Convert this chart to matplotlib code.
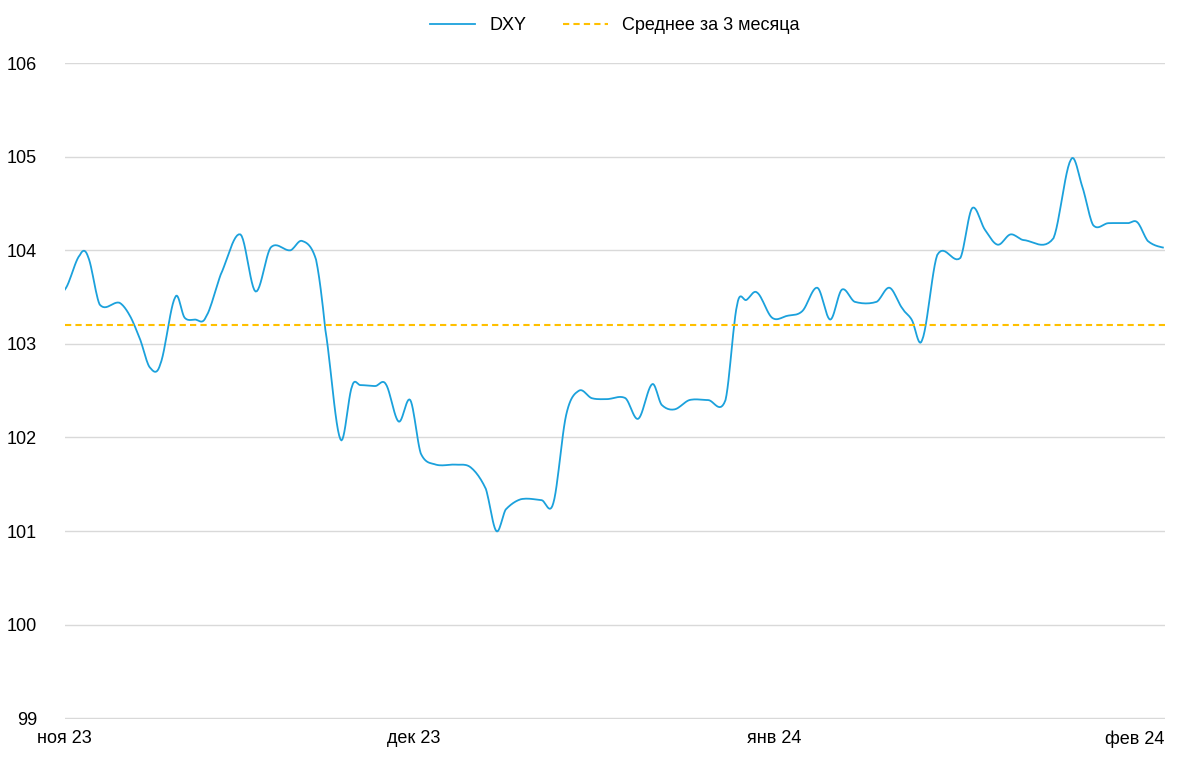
import matplotlib
matplotlib.use("Agg")
import matplotlib.pyplot as plt
import numpy as np

# day offsets from 1 Nov 2023 and DXY values
days = [0.0, 1.3, 2.0, 3.0, 4.7, 5.6, 6.5, 7.3, 8.2, 9.5, 10.3, 11.2, 12.1, 13.4, 15.1, 16.4, 17.7, 19.4, 20.4, 21.6, 22.4, 23.7, 24.7, 25.4, 26.7, 27.6, 28.7, 29.7, 30.6, 31.9, 33.6, 34.9, 36.2, 37.1, 37.9, 39.2, 41.0, 42.0, 43.1, 44.2, 45.3, 46.6, 48.2, 49.3, 50.5, 51.3, 52.4, 53.7, 55.3, 56.8, 57.8, 58.6, 59.5, 60.8, 62.1, 63.4, 64.7, 65.8, 66.8, 67.9, 69.8, 70.9, 72.0, 72.8, 73.7, 75.0, 77.0, 78.0, 79.1, 80.2, 81.3, 82.4, 85.0, 86.5, 87.5, 88.4, 89.7, 91.4, 92.2, 93.1, 94.4]
dxy = [103.58, 103.95, 103.93, 103.42, 103.44, 103.3, 103.04, 102.75, 102.78, 103.5, 103.28, 103.26, 103.28, 103.74, 104.17, 103.56, 104.03, 104.0, 104.1, 103.9, 103.15, 101.98, 102.55, 102.56, 102.55, 102.57, 102.17, 102.4, 101.83, 101.71, 101.71, 101.68, 101.45, 101.0, 101.23, 101.34, 101.33, 101.3, 102.24, 102.5, 102.42, 102.41, 102.42, 102.2, 102.57, 102.35, 102.3, 102.4, 102.4, 102.4, 103.42, 103.47, 103.55, 103.28, 103.3, 103.35, 103.6, 103.26, 103.58, 103.45, 103.45, 103.6, 103.38, 103.26, 103.04, 103.95, 103.92, 104.45, 104.22, 104.06, 104.17, 104.11, 104.13, 104.97, 104.67, 104.27, 104.29, 104.29, 104.3, 104.1, 104.03]
mean_3m = 103.2
tick_days = [0, 30, 61, 92]
tick_labels = ["ноя 23", "дек 23", "янв 24", "фев 24"]
yticks = [99, 100, 101, 102, 103, 104, 105, 106]

def smooth(x, y, n=12):
    x = np.asarray(x); y = np.asarray(y)
    xs, ys = [], []
    for i in range(len(x) - 1):
        p0 = y[max(i - 1, 0)]; p1 = y[i]; p2 = y[i + 1]; p3 = y[min(i + 2, len(y) - 1)]
        t = np.linspace(0, 1, n, endpoint=False)
        yy = 0.5 * ((2 * p1) + (-p0 + p2) * t + (2 * p0 - 5 * p1 + 4 * p2 - p3) * t**2 + (-p0 + 3 * p1 - 3 * p2 + p3) * t**3)
        xs.append(x[i] + (x[i + 1] - x[i]) * t); ys.append(yy)
    xs.append([x[-1]]); ys.append([y[-1]])
    return np.concatenate(xs), np.concatenate(ys)

plt.rcParams['font.family'] = ['Liberation Sans', 'DejaVu Sans']
fig = plt.figure(figsize=(12, 7.7), dpi=100)
ax = fig.add_axes([0.054, 0.066, 0.917, 0.852])
sx, sy = smooth(days, dxy)
ax.plot(sx, sy, color='#1BA1DC', lw=1.3, label='DXY')
ax.axhline(mean_3m, color='#FFC000', lw=1.5, ls=(0, (3, 2)), label='Среднее за 3 месяца')
ax.set_xlim(0, 94.6)
ax.set_ylim(98.99, 106)
ax.set_yticks(yticks)
ax.set_xticks(tick_days)
ax.set_xticklabels(tick_labels)
ax.grid(axis='y', color='#D9D9D9', lw=1)
for s in ['top', 'right', 'left', 'bottom']:
    ax.spines[s].set_visible(False)
ax.tick_params(length=0, labelsize=13, colors='#000000')
ax.tick_params(axis='y', pad=20)
ax.tick_params(axis='x', pad=8)
ax.legend(loc='upper center', bbox_to_anchor=(0.5, 1.095), ncol=2, frameon=False, fontsize=13, handlelength=2.5, columnspacing=2)
fig.savefig('out.png', dpi=100)
